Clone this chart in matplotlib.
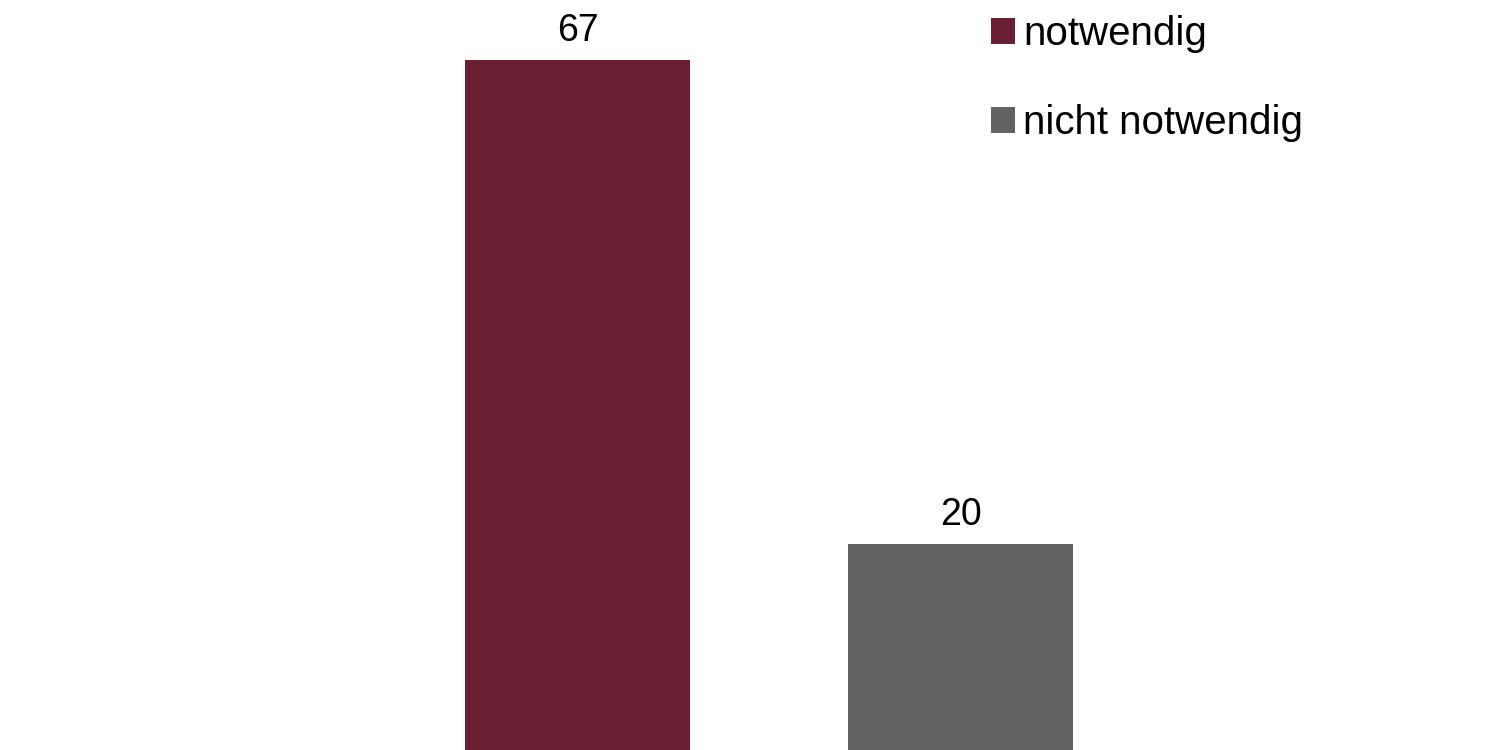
import matplotlib
matplotlib.use("Agg")
import matplotlib.pyplot as plt
from matplotlib.patches import Patch

categories = ["notwendig", "nicht notwendig"]
values = [67, 20]
colors = ["#6A2032", "#626262"]

plt.rcParams["font.family"] = ["Liberation Sans", "DejaVu Sans"]

fig = plt.figure(figsize=(15.01, 7.5), dpi=100)
ax = fig.add_axes([0, 0, 1, 1])

x = [0, 1]
bars = ax.bar(x, values, width=0.587, color=colors)
for xi, v in zip(x, values):
    ax.annotate(f"{v}", (xi, v), xytext=(0, 8), textcoords="offset points",
                ha="center", va="bottom", fontsize=27)

ax.set_xlim(-1.508, 2.411)
ax.set_ylim(0, 72.8)
ax.axis("off")

handles = [Patch(facecolor=c, edgecolor="none") for c in colors]
ax.legend(handles, categories, loc="upper left", bbox_to_anchor=(991 / 1501, 1 - 15 / 750),
          bbox_transform=fig.transFigure, frameon=False, fontsize=29,
          handlelength=0.6, handleheight=0.6, handletextpad=0.2,
          labelspacing=1.27, borderpad=0, borderaxespad=0)

fig.savefig("out.png", dpi=100, facecolor="white")
